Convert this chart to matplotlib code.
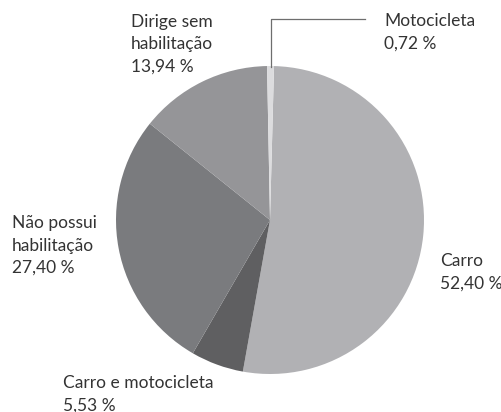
import matplotlib.pyplot as plt

plt.rcParams['font.family'] = ['Lato', 'DejaVu Sans']

# dados
categorias = ['Carro', 'Carro e motocicleta', 'Não possui\nhabilitação',
              'Dirige sem\nhabilitação', 'Motocicleta']
valores = [52.40, 5.53, 27.40, 13.94, 0.72]
rotulos = ['52,40 %', '5,53 %', '27,40 %', '13,94 %', '0,72 %']
cores = ['#b1b1b4', '#5f5f61', '#7a7b7e', '#959598', '#dcdcde']

W, H = 501, 412
fig = plt.figure(figsize=(W / 100, H / 100), dpi=100)

# pizza centrada em (270, 220) px, raio 154 px
cx, cy, r = 270, 220, 154
ax = fig.add_axes([(cx - r) / W, (H - cy - r) / H, 2 * r / W, 2 * r / H])
ax.pie(valores, colors=cores, startangle=88.5, counterclock=False,
       radius=1, wedgeprops=dict(linewidth=0))
ax.set_xlim(-1, 1)
ax.set_ylim(-1, 1)
ax.set_aspect('equal')
ax.axis('off')

# textos (posição em px, canto superior esquerdo)
pos = {
    0: (440, 253),
    1: (63, 375),
    2: (12, 215),
    3: (131, 14),
    4: (384, 13),
}
for i, (x, y) in pos.items():
    fig.text(x / W, 1 - y / H, categorias[i] + '\n' + rotulos[i],
             ha='left', va='top', fontsize=12.5, color='#333333',
             linespacing=1.5)

# linha de chamada da motocicleta
fig.add_artist(plt.Line2D([271 / W, 271 / W, 365 / W],
                          [1 - 67 / H, 1 - 19 / H, 1 - 19 / H],
                          color='#6e6e6e', linewidth=0.9))

fig.savefig('out.png', dpi=100, facecolor='white')
